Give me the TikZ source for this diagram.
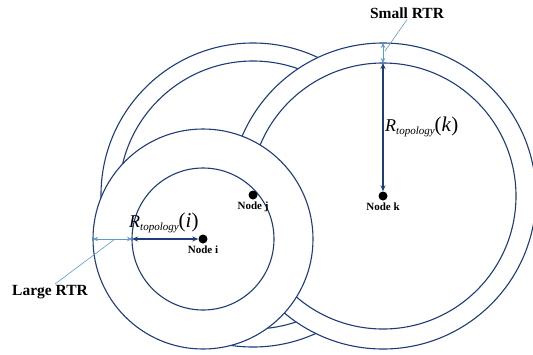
\documentclass[tikz,border=0pt]{standalone}
\usepackage{fontspec}
\setmainfont{Liberation Serif}
\usetikzlibrary{positioning,arrows.meta}
\definecolor{ringblue}{HTML}{1F3C7A}
\definecolor{rtrblue}{HTML}{5B9BD5}
\tikzset{ring/.style={draw=ringblue, line width=1.1pt},
  dot/.style={circle, fill=black, inner sep=0pt, minimum size=9pt},
  nodelabel/.style={font=\fontsize{11}{12}\selectfont\bfseries, inner sep=1pt},
  rtrlabel/.style={font=\fontsize{15.5}{18}\selectfont\bfseries, inner sep=1pt},
  radiusarrow/.style={draw=ringblue, line width=1.1pt, {Stealth[length=6pt,width=5pt]}-{Stealth[length=6pt,width=5pt]}},
  rtrarrow/.style={draw=rtrblue, line width=0.9pt, {Stealth[length=5pt,width=4.5pt]}-{Stealth[length=5pt,width=4.5pt]}},
  pointer/.style={draw=rtrblue, line width=0.6pt}}
\newcommand{\rtop}[1]{{\fontsize{18}{18}\selectfont\textit{R}}\raisebox{-3pt}{\fontsize{11}{11}\selectfont\textit{topology}}{\fontsize{21}{21}\selectfont(\textit{#1})}}

\begin{document}
\begin{tikzpicture}[x=1pt, y=-1pt]
    \useasboundingbox (0,0) rectangle (533,354);

    \coordinate (cj) at (253,195);
    \coordinate (ck) at (383,196);
    \coordinate (ci) at (203,239);

    % rings, back to front
    \draw[ring, fill=white] (cj) circle (152pt);
    \draw[ring] (cj) circle (134pt);
    \draw[ring, fill=white] (ck) circle (153pt);
    \draw[ring] (ck) circle (133pt);
    \draw[ring, fill=white] (ci) circle (110pt);
    \draw[ring] (ci) circle (71pt);

    \node[dot] (nodej) at (cj) {};
    \node[dot] (nodek) at (ck) {};
    \node[dot] (nodei) at (ci) {};
    \node[nodelabel, below=1pt of nodej] (labj) {Node j};
    \node[nodelabel, below=1pt of nodek] (labk) {Node k};
    \node[nodelabel, below=1pt of nodei] (labi) {Node i};

    % radius of topology
    \coordinate (ki) at ([yshift=133pt]ck);
    \coordinate (ko) at ([yshift=153pt]ck);
    \coordinate (ii) at ([xshift=-71pt]ci);
    \coordinate (io) at ([xshift=-110pt]ci);
    \draw[radiusarrow] (ki) -- (nodek.north);
    \draw[radiusarrow] (ii) -- (nodei.west);
    \node[anchor=south west, inner sep=0pt] (rk) at (385,137) {\rtop{k}};
    \node[anchor=south west, inner sep=0pt] (ri) at (129,233) {\rtop{i}};

    % RTR widths
    \draw[rtrarrow] (ko) -- (ki);
    \draw[rtrarrow] (io) -- (ii);
    \node[rtrlabel] (small) at (407,13) {Small RTR};
    \node[rtrlabel] (large) at (50,292) {Large RTR};
    \coordinate (sp) at (385,51);
    \coordinate (lp) at (115,239);
    \draw[pointer] (sp) -- (small.south);
    \draw[pointer] (lp) -- ([xshift=5pt]large.north);
\end{tikzpicture}
\end{document}
